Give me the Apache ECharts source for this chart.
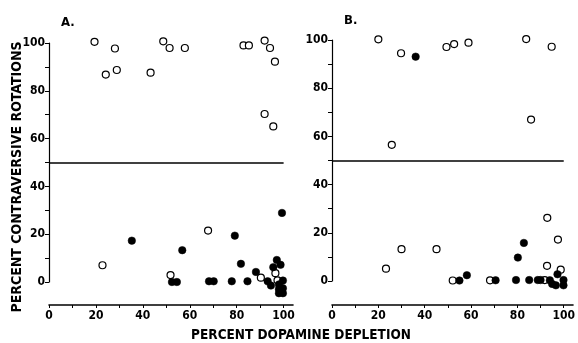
<!DOCTYPE html>
<html>
<head>
<meta charset="utf-8">
<script src="https://cdn.jsdelivr.net/npm/echarts@6/dist/echarts.min.js"></script>
<style>
  html, body { margin: 0; padding: 0; background: #fff; }
  #chart { width: 578px; height: 343px; }
</style>
</head>
<body>
<div id="chart"></div>
<script>
// readings: [percent dopamine depletion, percent contraversive rotations]
const panelA_open = [
  [19.4, 100.5], [24.2, 86.8], [28.1, 97.7], [28.9, 88.7], [43.3, 87.6], [48.7, 100.7],
  [51.4, 97.9], [57.9, 97.9], [82.9, 99], [85.2, 99], [91.9, 101], [94.2, 97.9],
  [96.3, 92.2], [91.9, 70.3], [95.6, 65.1],
  [22.8, 7.0], [51.8, 2.9], [67.8, 21.5], [90.3, 1.8], [96.5, 3.7], [97.4, 0.7]
];
const panelA_filled = [
  [35.3, 17.3], [52.4, 0], [54.5, 0], [56.8, 13.3], [68.2, 0.3], [70.2, 0.3],
  [79.2, 19.4], [77.9, 0.3], [81.8, 7.6], [84.6, 0.3], [88.2, 4.2], [93.2, 0.3],
  [94.6, -1.5], [95.6, 6.2], [97.1, 9.2], [98.7, 7.2], [99.3, 28.9], [99.7, 0.6],
  [98, -1], [98, -3], [99.7, -2.6], [98, -4.7], [99.7, -4.7]
];
const panelB_open = [
  [20.0, 100.3], [25.8, 56.5], [29.8, 94.5], [49.4, 97.1], [52.7, 98.3], [58.9, 98.9],
  [83.8, 100.4], [85.9, 67.0], [94.8, 97.2],
  [23.3, 5.1], [30.0, 13.2], [45.1, 13.2], [52.1, 0.2], [68.2, 0.3], [92.9, 26.2],
  [97.5, 17.2], [92.8, 6.3], [98.7, 4.7], [91.8, 0.4]
];
const panelB_filled = [
  [36.1, 93.1],
  [55.0, 0.2], [58.2, 2.4], [70.6, 0.3], [80.2, 9.7], [82.8, 15.8], [79.4, 0.4],
  [85.1, 0.4], [88.8, 0.4], [90.0, 0.4], [94.0, 0.3], [97.3, 2.8], [95.0, -1.2],
  [96.6, -1.8], [99.9, 0.4], [99.9, -1.8]
];
const xTicks = [0, 10, 20, 30, 40, 50, 60, 70, 80, 90, 100];
const xLabels = [0, 20, 40, 60, 80, 100];
const yTicks = [0, 10, 20, 30, 40, 50, 60, 70, 80, 90, 100];
const yLabels = [0, 20, 40, 60, 80, 100];
const threshold = 50;
const panelNames = ['A.', 'B.'];

const FONT = '"Liberation Sans Narrow", "DejaVu Sans Condensed", "Liberation Sans", sans-serif';
const chart = echarts.init(document.getElementById('chart'));

const xAxisFor = (gridIndex, offset) => ({
  type: 'value',
  gridIndex: gridIndex,
  min: 0,
  max: 104,
  offset: offset,
  splitLine: { show: false },
  axisLine: { onZero: false, lineStyle: { color: '#000', width: 1.6 } },
  axisTick: { customValues: xTicks, length: 3, lineStyle: { color: '#000' } },
  axisLabel: {
    customValues: xLabels, margin: 5, color: '#000',
    fontFamily: FONT, fontWeight: 'bold', fontSize: 12
  }
});
const yAxisFor = (gridIndex) => ({
  type: 'value',
  gridIndex: gridIndex,
  min: 0,
  max: 100,
  splitLine: { show: false },
  axisLine: { onZero: false, lineStyle: { color: '#000', width: 1.2 } },
  axisTick: { customValues: yTicks, length: 4, lineStyle: { color: '#000' } },
  axisLabel: {
    customValues: yLabels, margin: 4, color: '#000',
    fontFamily: FONT, fontWeight: 'bold', fontSize: 12
  }
});
const openSeries = (idx, data) => ({
  type: 'scatter', xAxisIndex: idx, yAxisIndex: idx, data: data, clip: false,
  symbol: 'circle', symbolSize: 7,
  itemStyle: { color: '#fff', borderColor: '#000', borderWidth: 1.2, opacity: 1 },
  markLine: {
    silent: true, symbol: 'none', animation: false,
    label: { show: false },
    lineStyle: { color: '#000', width: 1.6, type: 'solid' },
    data: [[{ coord: [0, threshold] }, { coord: [100, threshold] }]]
  }
});
const filledSeries = (idx, data) => ({
  type: 'scatter', xAxisIndex: idx, yAxisIndex: idx, data: data, clip: false,
  symbol: 'circle', symbolSize: 7.5,
  itemStyle: { color: '#000', borderColor: '#000', borderWidth: 0.5, opacity: 1 }
});

const option = {
  backgroundColor: '#fff',
  animation: false,
  title: [
    { text: panelNames[0], left: 56, top: 11, textStyle: { fontFamily: FONT, fontWeight: 'bold', fontSize: 13, color: '#000' } },
    { text: panelNames[1], left: 339, top: 9, textStyle: { fontFamily: FONT, fontWeight: 'bold', fontSize: 13, color: '#000' } }
  ],
  grid: [
    { left: 49, top: 43, width: 244, height: 239 },
    { left: 332, top: 40, width: 243, height: 241 }
  ],
  xAxis: [xAxisFor(0, 23), xAxisFor(1, 24)],
  yAxis: [yAxisFor(0), yAxisFor(1)],
  series: [
    openSeries(0, panelA_open),
    filledSeries(0, panelA_filled),
    openSeries(1, panelB_open),
    filledSeries(1, panelB_filled)
  ],
  graphic: [
    {
      type: 'text', x: 17, y: 177, rotation: Math.PI / 2,
      style: {
        text: 'PERCENT CONTRAVERSIVE ROTATIONS', align: 'center', verticalAlign: 'middle',
        fontFamily: FONT, fontWeight: 'bold', fontSize: 14, fill: '#000'
      }
    },
    {
      type: 'text', x: 301, y: 335,
      style: {
        text: 'PERCENT DOPAMINE DEPLETION', align: 'center', verticalAlign: 'middle',
        fontFamily: FONT, fontWeight: 'bold', fontSize: 13.5, fill: '#000'
      }
    }
  ]
};
chart.setOption(option);
</script>
</body>
</html>
